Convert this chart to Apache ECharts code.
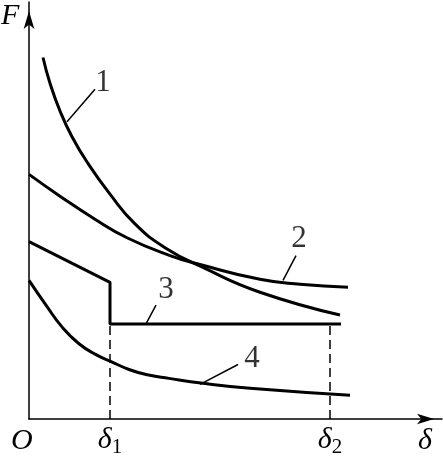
<!DOCTYPE html>
<html>
<head>
<meta charset="utf-8">
<script src="https://cdn.jsdelivr.net/npm/echarts@6/dist/echarts.min.js"></script>
<style>
  html, body { margin: 0; padding: 0; background: #fff; }
  #chart { width: 443px; height: 458px; }
</style>
</head>
<body>
<div id="chart"></div>
<script>
// F-δ 特性曲线示意图 (单位: 坐标格, 原点在左下)
var curve1 = [[14, 365], [21, 339], [31, 311], [43, 285], [59, 258], [81, 227], [106, 197], [136, 173], [176, 152], [231, 128], [311, 105]];
var curve2 = [[0, 247], [31, 225], [64, 203], [98, 183], [141, 165], [171, 156], [231, 141], [271, 136], [319, 133]];
var curve3 = [[0, 179], [81, 138], [81, 96], [312, 96]];
var curve4 = [[0, 140], [17, 115], [33, 93], [50, 76], [67, 65], [82, 58], [100, 50], [117, 45], [140, 41], [174, 36], [221, 31], [321, 24]];

// δ1, δ2 位置
var deltaTicks = [81, 301];
var deltaNames = ['1', '2'];
var dashTop = 96;

// 曲线编号与引线
var curveNames = ['1', '2', '3', '4'];
var leaders = [
    [[38, 300], [66, 333]],
    [[254, 140], [267, 165]],
    [[117, 96], [127, 115]],
    [[171, 35], [209, 55]]
];
var namePos = [[74, 339], [270, 182], [137, 130], [223, 61]];

var serif = 'Liberation Serif';
var chart = echarts.init(document.getElementById('chart'));

var series = [];
[curve1, curve2, curve4].forEach(function (c) {
    series.push({ type: 'line', data: c, smooth: 0.5, symbol: 'none', silent: true,
        lineStyle: { color: '#000', width: 3 } });
});
series.push({ type: 'line', data: curve3, symbol: 'none', silent: true,
    lineStyle: { color: '#000', width: 3 } });
deltaTicks.forEach(function (x) {
    series.push({ type: 'line', data: [[x, 0], [x, dashTop]], symbol: 'none', silent: true,
        lineStyle: { color: '#000', width: 1.5, type: [9, 5] } });
});
leaders.forEach(function (l) {
    series.push({ type: 'line', data: l, symbol: 'none', silent: true,
        lineStyle: { color: '#000', width: 1.5 } });
});
series.push({
    type: 'scatter', symbolSize: 1, silent: true,
    itemStyle: { color: 'rgba(0,0,0,0)' },
    data: namePos.map(function (p, i) { return [p[0], p[1], curveNames[i]]; }),
    label: {
        show: true, position: 'inside', color: '#000',
        fontFamily: serif, fontSize: 31,
        formatter: function (p) { return p.value[2]; }
    }
});

var option = {
    animation: false,
    grid: { left: 29, right: 1, top: 2, bottom: 35 },
    xAxis: {
        type: 'value', min: 0, max: 413,
        splitLine: { show: false },
        axisTick: { show: false },
        axisLine: { onZero: false, lineStyle: { color: '#000', width: 1.5 },
            symbol: ['none', 'arrow'], symbolSize: [8, 17], symbolOffset: [0, -8] },
        axisLabel: {
            customValues: deltaTicks, margin: 4, color: '#000',
            formatter: function (v) {
                return '{d|δ}{s|' + deltaNames[deltaTicks.indexOf(v)] + '}';
            },
            rich: {
                d: { fontFamily: serif, fontStyle: 'italic', fontSize: 30, color: '#000' },
                s: { fontFamily: serif, fontSize: 21, color: '#000', verticalAlign: 'bottom', padding: [14, 0, 0, 0] }
            }
        }
    },
    yAxis: {
        type: 'value', min: 0, max: 421,
        splitLine: { show: false },
        axisTick: { show: false },
        axisLabel: { show: false },
        axisLine: { onZero: false, lineStyle: { color: '#000', width: 1.5 },
            symbol: ['none', 'arrow'], symbolSize: [8, 18], symbolOffset: [0, -9] }
    },
    graphic: [
        { type: 'text', left: 1, top: 1, style: { text: 'F', fontFamily: serif, fontStyle: 'italic', fontSize: 30, fill: '#000' } },
        { type: 'text', left: 11, top: 426, style: { text: 'O', fontFamily: serif, fontStyle: 'italic', fontSize: 30, fill: '#000' } },
        { type: 'text', left: 418, top: 426, style: { text: 'δ', fontFamily: serif, fontStyle: 'italic', fontSize: 30, fill: '#000' } }
    ],
    series: series
};
chart.setOption(option);
</script>
</body>
</html>
